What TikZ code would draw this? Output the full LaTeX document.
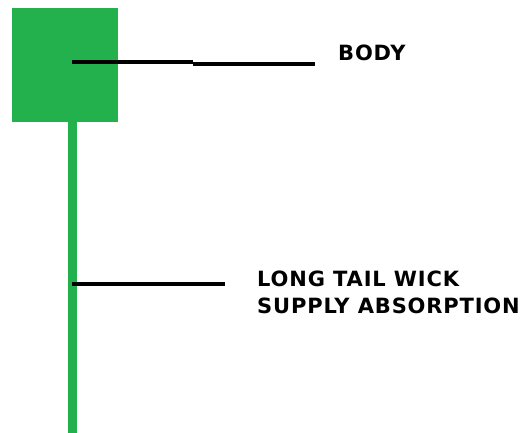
\documentclass[tikz,border=0pt]{standalone}
\usepackage{fontspec}
\setmainfont{DejaVu Sans}
\newfontfamily\lblfont[LetterSpace=4]{DejaVu Sans}
\definecolor{candle}{RGB}{34,177,76}
\begin{document}
\begin{tikzpicture}[x=1pt,y=-1pt,
  lbl/.style={anchor=base west,inner sep=0pt,font=\lblfont\bfseries\fontsize{21}{27}\selectfont},
  pointer/.style={line width=4.3pt,black}]
\useasboundingbox (0,0) rectangle (524,433);
\fill[candle] (68,120) rectangle (77,433);
\node[fill=candle,inner sep=0pt,minimum width=106pt,minimum height=114pt,anchor=north west] (body) at (12,8) {};
\coordinate (bodyin) at (72,62);
\coordinate (step1) at (193,62);
\coordinate (step2) at (193,64);
\coordinate (bodyend) at (315,64);
\coordinate (wickin) at (72,284);
\coordinate (wickend) at (225,284);
\node[lbl] (bodylbl) at (338,61) {BODY};
\node[lbl] (wicklbl1) at (257,286) {LONG TAIL WICK};
\node[lbl] (wicklbl2) at (257,313) {SUPPLY ABSORPTION};
\draw[pointer] (bodyin) -- (step1);
\draw[pointer] (step2) -- (bodyend);
\draw[pointer] (wickin) -- (wickend);
\end{tikzpicture}
\end{document}
